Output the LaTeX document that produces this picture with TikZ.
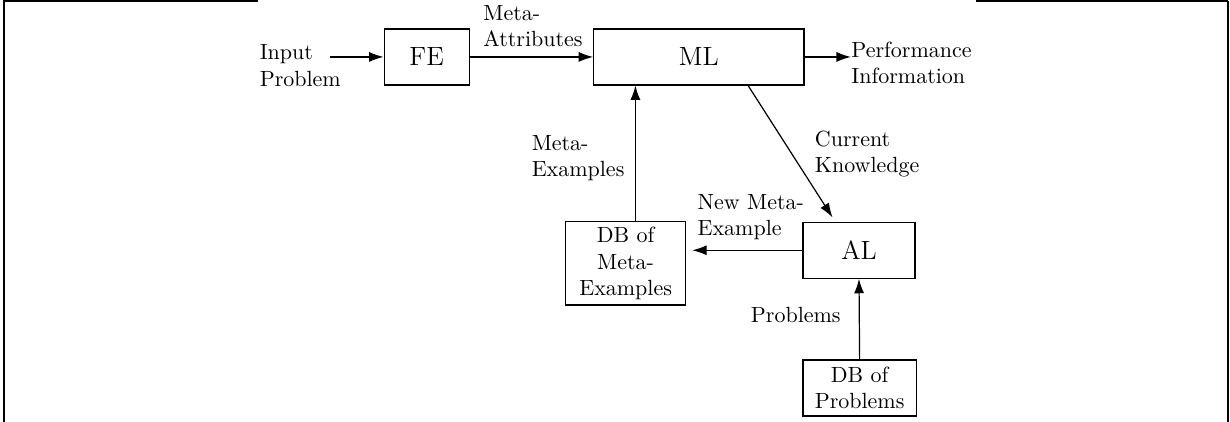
\documentclass[tikz,border=0pt]{standalone}
\usepackage{tikz}
\usetikzlibrary{arrows.meta, positioning, calc}

\begin{document}
\begin{tikzpicture}[
    line width=0.55pt,
    blk/.style={draw, minimum height=0.895cm, font=\large},
    dbblk/.style={draw, align=center, inner sep=1pt},
    lbl/.style={align=left, inner sep=0pt, font=\normalsize},
    >={Latex[length=2.3mm, width=1.6mm]}
  ]
    \useasboundingbox (0,0) rectangle (19.66,-6.745);

    % frame pieces
    \draw[line width=0.9pt] (0.05,-0.02) -- (4.12,-0.02);
    \draw[line width=0.9pt] (0.065,-0.02) -- (0.065,-6.745);
    \draw[line width=0.9pt] (15.6,-0.02) -- (19.63,-0.02);
    \draw[line width=0.9pt] (19.625,-0.02) -- (19.625,-6.745);

    % Boxes
    \node[blk, minimum width=1.36cm] (FE) at (6.82,-0.91) {FE};
    \node[blk, minimum width=3.36cm] (ML) at (11.17,-0.91) {ML};
    \node[blk, minimum width=1.79cm] (AL) at (13.73,-4.0) {AL};
    \node[dbblk, minimum width=1.92cm, minimum height=1.33cm] (DBme) at (10.0,-4.21) {DB of\\Meta-\\Examples};
    \node[dbblk, minimum width=1.81cm, minimum height=0.895cm] (DBpr) at (13.74,-6.2) {DB of\\Problems};

    % Labels
    \node[lbl] (inp) at (4.8,-1.05) {Input\\Problem};
    \node[lbl] (metaattr) at (8.52,-0.415) {Meta-\\Attributes};
    \node[lbl, anchor=west] (perf) at (13.6,-1.0) {Performance\\Information};
    \node[lbl] (metaex) at (9.24,-2.525) {Meta-\\Examples};
    \node[lbl] (curknow) at (13.86,-2.46) {Current\\Knowledge};
    \node[lbl] (newme) at (12.0,-3.47) {New Meta-\\Example};
    \node[lbl] (probs) at (12.72,-5.03) {Problems};

    % Connectors
    \coordinate (instart) at (5.27,-0.91);
    \coordinate (mlin) at ($(ML.south west)!0.2!(ML.south east)$);
    \coordinate (mlout) at ($(ML.south west)!0.733!(ML.south east)$);
    \coordinate (alin) at ($(AL.north west)!0.29!(AL.north east)$);

    \draw[->] (instart) -- (FE.west);
    \draw[->] (FE.east) -- (ML.west);
    \draw[->] (ML.east) -- (ML.east -| perf.west);
    \draw[->] (DBme.north -| mlin) -- (mlin);
    \draw[->, shorten >=2.3pt] (mlout) -- (alin);
    \draw[->, shorten >=2.7pt] (AL.west) -- (AL.west -| DBme.east);
    \draw[->] (DBpr.north) -- (AL.south);
\end{tikzpicture}
\end{document}
